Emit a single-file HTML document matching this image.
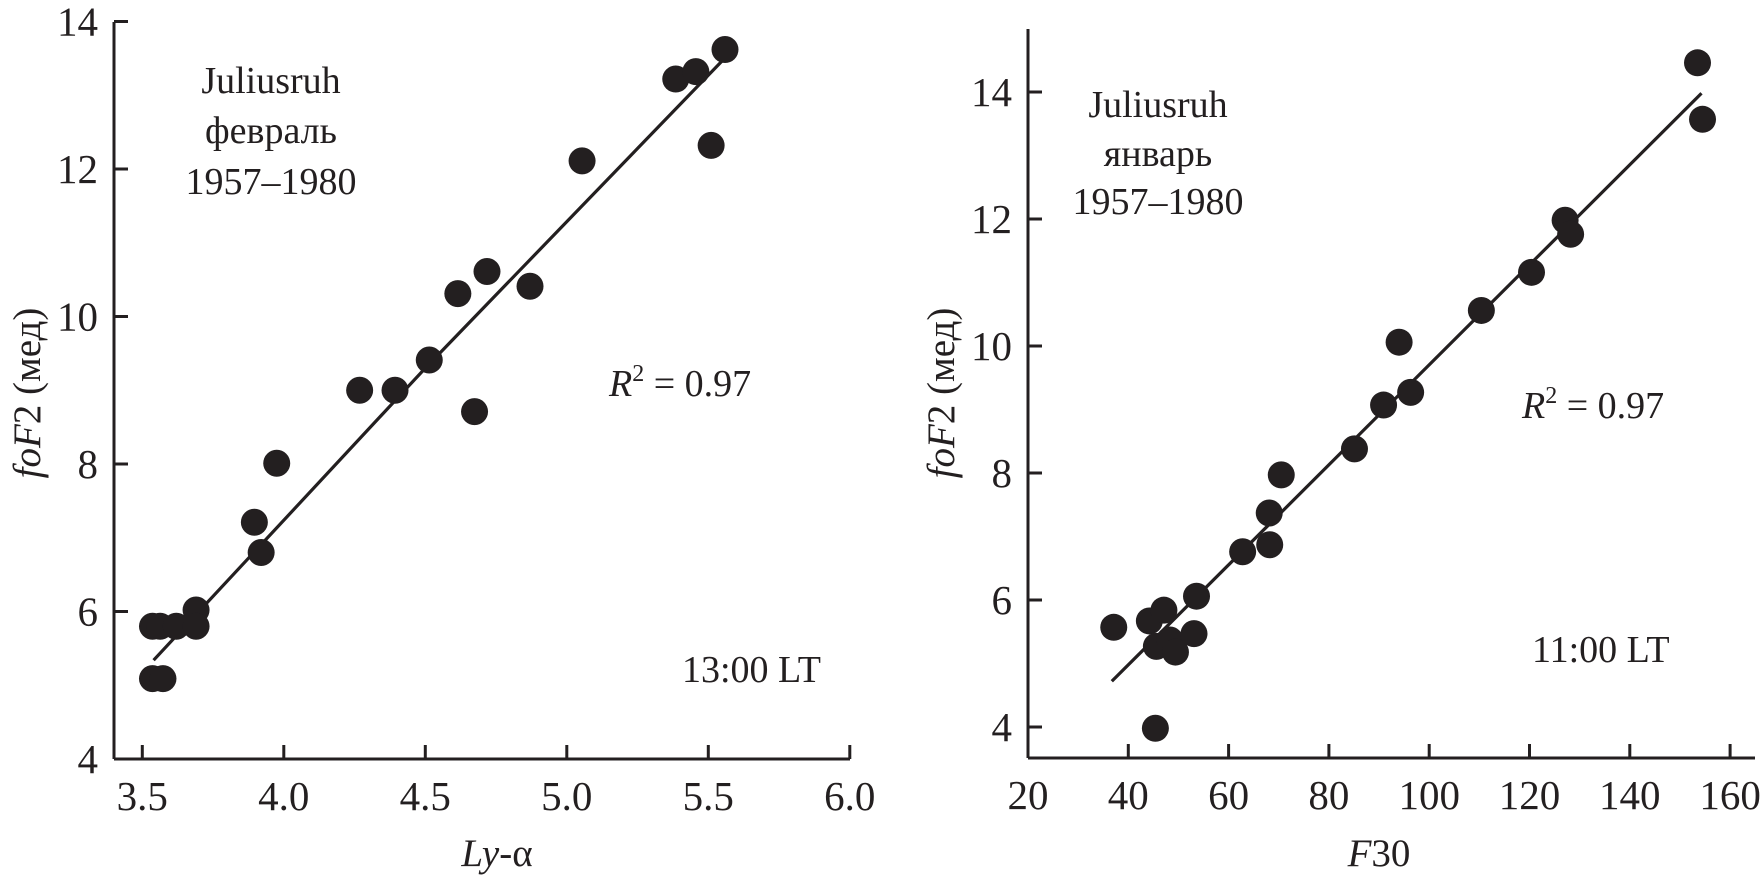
<!DOCTYPE html>
<html><head><meta charset="utf-8">
<style>
html,body{margin:0;padding:0;background:#fff;}
svg{display:block;}
text{font-family:"Liberation Serif","DejaVu Serif",serif;fill:#231f20;}
</style></head>
<body>
<svg id="chart" width="1760" height="875" viewBox="0 0 1760 875" xmlns="http://www.w3.org/2000/svg">
  <g id="left"></g>
  <g id="right"></g>
</svg>
<script>
// Left panel data (Ly-alpha vs foF2, February)
const leftX = [3.536,3.563,3.62,3.69,3.69,3.536,3.573,3.896,3.92,3.975,4.268,4.393,4.514,4.615,4.718,4.674,4.87,5.054,5.385,5.456,5.559,5.51];
const leftY = [5.8,5.8,5.8,6.02,5.8,5.09,5.09,7.21,6.8,8.01,9.0,9.0,9.41,10.31,10.61,8.71,10.41,12.11,13.22,13.32,13.62,12.32];
const leftFitX = [3.54,4.5,5.55];
const leftFitY = [5.34,9.3,13.47];
const leftXTicks = ["3.5","4.0","4.5","5.0","5.5","6.0"];
const leftYTicks = ["4","6","8","10","12","14"];
// Right panel data (F30 vs foF2, January)
const rightX = [37.1,44.2,47.1,45.6,48.3,49.4,53.6,53.1,45.4,62.8,68.1,68.2,70.5,85.1,90.9,94.0,96.3,110.4,120.4,127.1,128.2,153.5,154.5];
const rightY = [5.57,5.67,5.84,5.27,5.37,5.18,6.06,5.47,3.98,6.76,7.37,6.87,7.97,8.38,9.07,10.06,9.27,10.56,11.16,11.98,11.76,14.46,13.57];
const rightFitX = [36.7,154.3];
const rightFitY = [4.72,13.98];
const rightXTicks = ["20","40","60","80","100","120","140","160"];
const rightYTicks = ["4","6","8","10","12","14"];

const NS = "http://www.w3.org/2000/svg";
function mk(parent, tag, attrs, txt){
  const e = document.createElementNS(NS, tag);
  for (const k in attrs) e.setAttribute(k, attrs[k]);
  if (txt !== undefined) e.textContent = txt;
  parent.appendChild(e);
  return e;
}

function panel(g, cfg){
  const sx = v => cfg.x0 + (v - cfg.xv0) * cfg.xs;
  const sy = v => cfg.y0 - (v - cfg.yv0) * cfg.ys;
  const stroke = {stroke:"#231f20","stroke-width":3,fill:"none"};
  const ya = mk(g,"line",Object.assign({x1:cfg.x0,y1:cfg.yTop,x2:cfg.x0,y2:cfg.axisY},stroke));
  
  
  const xa = mk(g,"line",Object.assign({x1:cfg.x0,y1:cfg.axisY,x2:cfg.xEnd,y2:cfg.axisY},stroke));
  
  
  cfg.xticks.forEach(t => {
    const v = parseFloat(t), x = sx(v);
    if (Math.abs(x - cfg.x0) > 3) {
      const tk = mk(g,"line",Object.assign({x1:x,y1:cfg.axisY,x2:x,y2:cfg.axisY-14},stroke));
      
      
    }
    const tl = mk(g,"text",{x:x,y:cfg.axisY+51,"font-size":41,"text-anchor":"middle"},t);
    
    
  });
  cfg.yticks.forEach(t => {
    const v = parseFloat(t), y = sy(v);
    if (Math.abs(y - cfg.axisY) > 3) {
      const tk = mk(g,"line",Object.assign({x1:cfg.x0,y1:y,x2:cfg.x0+14,y2:y},stroke));
      
      
    }
    const tl = mk(g,"text",{x:cfg.x0-16,y:y+14,"font-size":41,"text-anchor":"end"},t);
    
    
  });
  const pts = cfg.fitX.map((v,i)=> sx(v).toFixed(1)+","+sy(cfg.fitY[i]).toFixed(1)).join(" ");
  const fl = mk(g,"polyline",{points:pts,stroke:"#231f20","stroke-width":3.2,fill:"none"});
  
  
  cfg.px.forEach((v,i) => {
    const c = mk(g,"circle",{cx:sx(v),cy:sy(cfg.py[i]),r:13.5,fill:"#231f20"});
    
    
  });
}

const L = document.getElementById("left");
panel(L,{x0:114,xv0:3.4,xs:283,y0:759,yv0:4,ys:73.75,yTop:22,axisY:759,xEnd:850,
  xticks:leftXTicks,yticks:leftYTicks,px:leftX,py:leftY,fitX:leftFitX,fitY:leftFitY});
const R = document.getElementById("right");
panel(R,{x0:1028,xv0:20,xs:5.015,y0:727,yv0:4,ys:63.5,yTop:29,axisY:758,xEnd:1755,
  xticks:rightXTicks,yticks:rightYTicks,px:rightX,py:rightY,fitX:rightFitX,fitY:rightFitY});
</script>
<svg width="1760" height="875" style="position:absolute;left:0;top:0;" xmlns="http://www.w3.org/2000/svg">
  <g font-size="38" text-anchor="middle">
    <text x="271" y="93">Juliusruh</text>
    <text x="271" y="143">февраль</text>
    <text x="271" y="194">1957–1980</text>
  </g>
  <text x="609" y="396" font-size="38"><tspan font-style="italic">R</tspan><tspan font-size="24" dy="-15">2</tspan><tspan dy="15"> = 0.97</tspan></text>
  <text x="682" y="682" font-size="38">13:00 LT</text>
  <text x="497" y="866" font-size="39" text-anchor="middle"><tspan font-style="italic">Ly</tspan>-α</text>
  <text transform="translate(40,393) rotate(-90)" font-size="39" text-anchor="middle"><tspan font-style="italic">foF</tspan>2 (мед)</text>

  <g font-size="38" text-anchor="middle">
    <text x="1158" y="117">Juliusruh</text>
    <text x="1158" y="166">январь</text>
    <text x="1158" y="214">1957–1980</text>
  </g>
  <text x="1522" y="418" font-size="38"><tspan font-style="italic">R</tspan><tspan font-size="24" dy="-15">2</tspan><tspan dy="15"> = 0.97</tspan></text>
  <text x="1532" y="662" font-size="38">11:00 LT</text>
  <text x="1379" y="866" font-size="39" text-anchor="middle"><tspan font-style="italic">F</tspan>30</text>
  <text transform="translate(954,393) rotate(-90)" font-size="39" text-anchor="middle"><tspan font-style="italic">foF</tspan>2 (мед)</text>
</svg>
</body></html>
